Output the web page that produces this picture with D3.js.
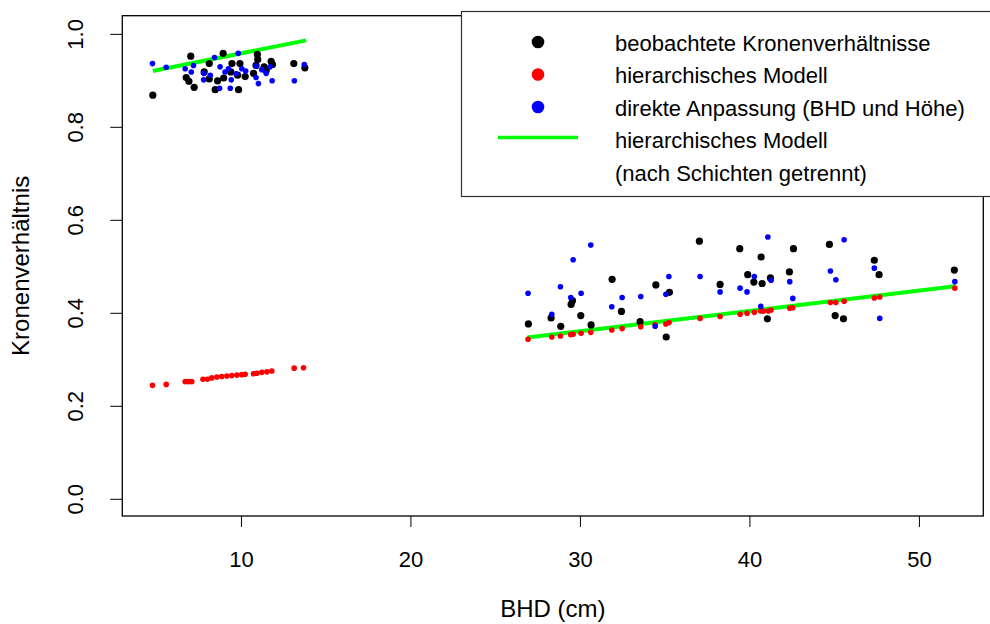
<!DOCTYPE html>
<html>
<head>
<meta charset="utf-8">
<script src="https://cdn.jsdelivr.net/npm/d3@7"></script>
<style>
  body { margin: 0; background: #fff; }
  svg { display: block; font-family: "Liberation Sans", Arial, sans-serif; }
</style>
</head>
<body>
<svg id="chart" width="990" height="624"></svg>
<script>
// ── Data ──────────────────────────────────────────────────────
// observed crown ratios (black)
const obsX = [4.80, 7.04, 8.95, 10.97, 10.99, 11.78, 11.86, 13.12, 13.77, 6.77, 6.93, 7.24, 8.48, 9.86,
  8.13, 8.62, 8.98, 9.47, 9.94, 10.25, 10.74, 11.37, 11.49, 8.13, 10.89, 9.40, 9.80, 7.83,
  26.96, 28.30, 28.87, 29.48, 29.56, 30.05, 30.66, 31.90, 32.45, 33.55, 34.48, 35.28, 35.09, 37.05, 38.27,
  39.43, 40.69, 42.60, 39.90, 40.26, 40.75, 41.24, 42.36, 41.06, 44.72, 47.37, 47.65, 45.06, 45.55, 52.09];
const obsY = [0.868, 0.952, 0.958, 0.956, 0.945, 0.941, 0.934, 0.936, 0.927, 0.906, 0.898, 0.885, 0.880, 0.880,
  0.903, 0.899, 0.905, 0.936, 0.936, 0.908, 0.915, 0.929, 0.921, 0.936, 0.932, 0.918, 0.911, 0.918,
  0.376, 0.389, 0.371, 0.418, 0.426, 0.394, 0.374, 0.472, 0.403, 0.381, 0.460, 0.444, 0.348, 0.554, 0.461,
  0.538, 0.520, 0.538, 0.482, 0.466, 0.463, 0.475, 0.488, 0.387, 0.547, 0.513, 0.482, 0.394, 0.387, 0.492];

// hierarchical model (red)
const hierX = [4.78, 5.59, 6.71, 6.90, 7.10, 7.76, 8.02, 8.28, 8.58, 8.87, 9.17, 9.46, 9.76, 10.05, 10.25,
  10.74, 10.94, 11.23, 11.53, 11.82, 13.14, 13.69,
  26.94, 28.34, 28.85, 29.46, 29.60, 30.07, 30.64, 31.88, 32.49, 33.59, 34.44, 35.07, 35.26, 37.09, 38.27,
  39.45, 39.86, 40.29, 40.67, 40.83, 41.12, 41.28, 42.38, 42.56, 44.78, 45.10, 45.59, 47.37, 47.69, 52.12];
const hierY = [0.244, 0.246, 0.252, 0.252, 0.252, 0.257, 0.257, 0.260, 0.262, 0.263, 0.264, 0.265, 0.266, 0.267, 0.268,
  0.269, 0.270, 0.272, 0.273, 0.275, 0.281, 0.282,
  0.343, 0.348, 0.350, 0.353, 0.354, 0.356, 0.358, 0.363, 0.366, 0.370, 0.374, 0.376, 0.379, 0.388, 0.392,
  0.397, 0.399, 0.401, 0.404, 0.404, 0.404, 0.406, 0.410, 0.411, 0.422, 0.422, 0.425, 0.432, 0.434, 0.453];

// direct fit, DBH and height (blue)
const directX = [4.78, 5.59, 6.71, 7.20, 7.07, 8.44, 9.84, 7.80, 7.80, 8.19, 8.74, 9.37, 8.77, 9.06, 9.26,
  9.71, 10.05, 10.28, 10.89, 10.89, 11.03, 11.23, 11.49, 11.72, 11.84, 13.15, 13.74, 9.43,
  26.94, 28.34, 28.85, 29.60, 30.64, 29.46, 30.07, 31.88, 32.49, 33.59, 35.07, 35.25, 37.09, 38.27, 34.44,
  39.45, 39.86, 40.29, 41.09, 45.59, 41.28, 42.38, 42.56, 40.67, 44.78, 45.10, 47.37, 47.69, 52.12];
const directY = [0.936, 0.928, 0.925, 0.932, 0.918, 0.949, 0.958, 0.915, 0.901, 0.911, 0.883, 0.883, 0.929, 0.918, 0.925,
  0.914, 0.925, 0.920, 0.931, 0.906, 0.893, 0.923, 0.915, 0.929, 0.899, 0.899, 0.934, 0.901,
  0.442, 0.397, 0.456, 0.514, 0.546, 0.433, 0.442, 0.413, 0.433, 0.435, 0.440, 0.478, 0.478, 0.445, 0.371,
  0.453, 0.445, 0.478, 0.563, 0.557, 0.470, 0.467, 0.431, 0.414, 0.490, 0.471, 0.496, 0.388, 0.467];

// hierarchical model by layer (green lines)
const layerLines = [
  { x: [4.80, 13.85], y: [0.920, 0.986] },
  { x: [26.90, 52.14], y: [0.347, 0.457] }
];

const xTicks = [10, 20, 30, 40, 50];
const yTicks = [0.0, 0.2, 0.4, 0.6, 0.8, 1.0];

const legendItems = [
  { label: ['beobachtete Kronenverhältnisse'], color: '#000000', type: 'point' },
  { label: ['hierarchisches Modell'], color: '#ff0000', type: 'point' },
  { label: ['direkte Anpassung (BHD und Höhe)'], color: '#0000ff', type: 'point' },
  { label: ['hierarchisches Modell', '(nach Schichten getrennt)'], color: '#00ff00', type: 'line' }
];

// ── Layout ────────────────────────────────────────────────────
const plot = { left: 122.3, right: 983.3, top: 15.7, bottom: 516 };
const svg = d3.select('#chart');

const x = d3.scaleLinear().domain([3.0, 53.8]).range([plot.left, plot.right]);
const y = d3.scaleLinear().domain([-0.037, 1.039]).range([plot.bottom, plot.top]);

// ── Axes ──────────────────────────────────────────────────────
const xAxis = svg.append('g')
  .attr('transform', `translate(0,${plot.bottom})`)
  .call(d3.axisBottom(x).tickValues(xTicks).tickSize(11).tickPadding(24).tickFormat(d3.format('d')));
xAxis.select('.domain').remove();
xAxis.selectAll('text').attr('font-size', 22).attr('fill', '#000').attr('font-family', null);
xAxis.selectAll('line').attr('stroke', '#000');

const yAxis = svg.append('g')
  .attr('transform', `translate(${plot.left},0)`)
  .call(d3.axisLeft(y).tickValues(yTicks).tickSize(12).tickFormat(d3.format('.1f')));
yAxis.select('.domain').remove();
yAxis.selectAll('line').attr('stroke', '#000');
yAxis.selectAll('text')
  .attr('font-size', 22).attr('fill', '#000').attr('font-family', null)
  .attr('x', null).attr('dy', null)
  .attr('text-anchor', 'middle')
  .attr('transform', 'translate(-47,0) rotate(-90)')
  .attr('dy', '0.35em');

// plot frame
svg.append('rect')
  .attr('x', plot.left).attr('y', plot.top)
  .attr('width', plot.right - plot.left).attr('height', plot.bottom - plot.top)
  .attr('fill', 'none').attr('stroke', '#000').attr('stroke-width', 1.3);

// axis titles
svg.append('text')
  .attr('x', (plot.left + plot.right) / 2).attr('y', 617)
  .attr('text-anchor', 'middle').attr('font-size', 24)
  .text('BHD (cm)');

svg.append('text')
  .attr('transform', `translate(29,${(plot.top + plot.bottom) / 2}) rotate(-90)`)
  .attr('text-anchor', 'middle').attr('font-size', 24)
  .text('Kronenverhältnis');

// ── Marks ─────────────────────────────────────────────────────
const line = d3.line().x(d => x(d[0])).y(d => y(d[1]));
layerLines.forEach(l => {
  svg.append('path')
    .datum(d3.zip(l.x, l.y))
    .attr('d', line)
    .attr('fill', 'none').attr('stroke', '#00ff00').attr('stroke-width', 4);
});

function drawPoints(xs, ys, color, r) {
  svg.append('g').selectAll('circle')
    .data(d3.zip(xs, ys))
    .join('circle')
    .attr('cx', d => x(d[0])).attr('cy', d => y(d[1]))
    .attr('r', r).attr('fill', color);
}
drawPoints(obsX, obsY, '#000000', 3.6);
drawPoints(hierX, hierY, '#ff0000', 2.8);
drawPoints(directX, directY, '#0000ff', 2.8);

// ── Legend ────────────────────────────────────────────────────
const legend = svg.append('g');
legend.append('rect')
  .attr('x', 461.5).attr('y', 11.5).attr('width', 530).attr('height', 185)
  .attr('fill', '#fff').attr('stroke', '#333').attr('stroke-width', 1.2);

let rowY = 43;
legendItems.forEach(item => {
  if (item.type === 'point') {
    legend.append('circle').attr('cx', 538).attr('cy', rowY - 1).attr('r', 6.3).attr('fill', item.color);
  } else {
    legend.append('line').attr('x1', 498).attr('x2', 578).attr('y1', rowY - 3).attr('y2', rowY - 3)
      .attr('stroke', item.color).attr('stroke-width', 3.5);
  }
  item.label.forEach((t, i) => {
    legend.append('text')
      .attr('x', 615).attr('y', rowY + i * 33).attr('dy', '0.35em')
      .attr('font-size', 22).text(t);
  });
  rowY += 32.5;
});
</script>
</body>
</html>
